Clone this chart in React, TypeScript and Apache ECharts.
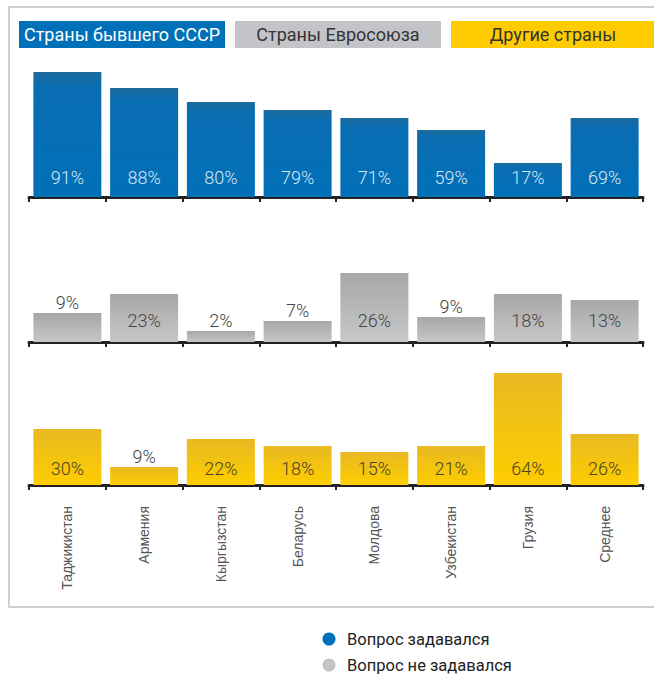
import React, { useEffect, useRef } from "react";
import * as echarts from "echarts";

const categories = ["Таджикистан", "Армения", "Кыргызстан", "Беларусь", "Молдова", "Узбекистан", "Грузия", "Среднее"];
const groupTitles = ["Страны бывшего СССР", "Страны Евросоюза", "Другие страны"];
const sovietShare = [91, 88, 80, 79, 71, 59, 17, 69];
const euShare = [9, 23, 2, 7, 26, 9, 18, 13];
const otherShare = [30, 9, 22, 18, 15, 21, 64, 26];
// bar lengths as drawn in the picture (not proportional to the printed shares)
const sovietBarLength = [125, 109, 95, 87, 79, 67, 34, 79];
const euBarLength = [29, 48, 11, 21, 69, 25, 48, 42];
const otherBarLength = [56, 18, 46, 39, 33, 39, 112, 51];
const legendItems = ["Вопрос задавался", "Вопрос не задавался"];

const FONT = "Roboto, 'Liberation Sans', sans-serif";

export default function App() {
  const ref = useRef<HTMLDivElement>(null);
  useEffect(() => {
    if (!ref.current) return;
    const chart = echarts.init(ref.current, null, { renderer: "svg" });
    const H = 130;
    const grids = [
      { left: 29, width: 614, top: 67, height: H },
      { left: 29, width: 614, top: 212, height: H },
      { left: 29, width: 614, top: 355, height: H },
    ];
    const grad = (top: string, bottom: string) =>
      new echarts.graphic.LinearGradient(0, 0, 0, 1, [
        { offset: 0, color: top },
        { offset: 1, color: bottom },
      ]);
    const panels = [
      {
        len: sovietBarLength, share: sovietShare,
        color: new echarts.graphic.LinearGradient(0, 0, 0, 1, [
          { offset: 0, color: "#1c6a9c" },
          { offset: 0.12, color: "#0a6db2" },
          { offset: 1, color: "#0070b8" },
        ]),
        labelColor: "rgba(255,255,255,0.85)", inside: 11,
      },
      { len: euBarLength, share: euShare, color: grad("#a7a7a7", "#c6c7c9"), labelColor: "#454545", inside: 13 },
      { len: otherBarLength, share: otherShare, color: grad("#e8b922", "#fecd00"), labelColor: "#4a4125", inside: 8 },
    ];
    const xAxes = grids.map((_, i) => ({
      type: "category",
      gridIndex: i,
      data: categories,
      boundaryGap: true,
      axisLine: { show: true, lineStyle: { color: "#222", width: 3 } },
      axisTick: { show: true, length: 5, lineStyle: { color: "#222", width: 2 } },
      axisLabel: {
        show: i === 2,
        rotate: 90,
        margin: 21,
        interval: 0,
        color: "#555",
        fontSize: 14,
        fontFamily: "'Liberation Sans', Arial, sans-serif",
      },
    }));
    const yAxes = grids.map((_, i) => ({
      type: "value",
      gridIndex: i,
      min: 0,
      max: H,
      show: false,
      splitLine: { show: false },
    }));
    const series = panels.map((p, i) => ({
      type: "bar",
      xAxisIndex: i,
      yAxisIndex: i,
      barWidth: 68,
      itemStyle: { color: p.color },
      data: p.len.map((v, j) => {
        const small = v < 30;
        return {
          value: v,
          label: {
            show: true,
            position: small ? "top" : "insideBottom",
            distance: small ? 2 : p.inside,
            formatter: () => p.share[j] + "%",
            color: small ? "#454545" : p.labelColor,
            fontSize: 18,
            fontWeight: 300,
            fontFamily: FONT,
          },
        };
      }),
    }));
    const headerBoxes = [
      { x: 19, w: 206, fill: "#0070b8", text: "#ffffff" },
      { x: 235, w: 206, fill: "#c3c4c7", text: "#333333" },
      { x: 451, w: 206, fill: "#fecb00", text: "#333333" },
    ];
    const graphic: any[] = [
      {
        type: "rect",
        shape: { x: 9, y: 7, width: 660, height: 600 },
        style: { fill: "none", stroke: "#d0d0d0", lineWidth: 2 },
        silent: true,
      },
    ];
    headerBoxes.forEach((b, i) => {
      graphic.push({ type: "rect", shape: { x: b.x, y: 21, width: b.w, height: 27 }, style: { fill: b.fill } });
      graphic.push({
        type: "text",
        x: b.x + b.w / 2 - (i === 2 ? 1 : 0),
        y: 34.5,
        style: {
          text: groupTitles[i],
          fill: b.text,
          fontSize: 18,
          fontFamily: FONT,
          align: "center",
          verticalAlign: "middle",
        },
      });
    });
    const legendColors = ["#0070b8", "#c3c4c7"];
    legendItems.forEach((t, i) => {
      const cy = 639 + i * 26;
      graphic.push({ type: "circle", shape: { cx: 329, cy, r: 6.5 }, style: { fill: legendColors[i] } });
      graphic.push({
        type: "text",
        x: 347,
        y: cy,
        style: { text: t, fill: "#222", fontSize: 16.5, fontFamily: FONT, verticalAlign: "middle" },
      });
    });
    chart.setOption({
      animation: false,
      backgroundColor: "#ffffff",
      grid: grids,
      xAxis: xAxes,
      yAxis: yAxes,
      series,
      graphic,
    });
    return () => chart.dispose();
  }, []);
  return (
    <div
      ref={ref}
      style={{ position: "absolute", left: 0, top: 0, width: 654, height: 676 }}
    />
  );
}
